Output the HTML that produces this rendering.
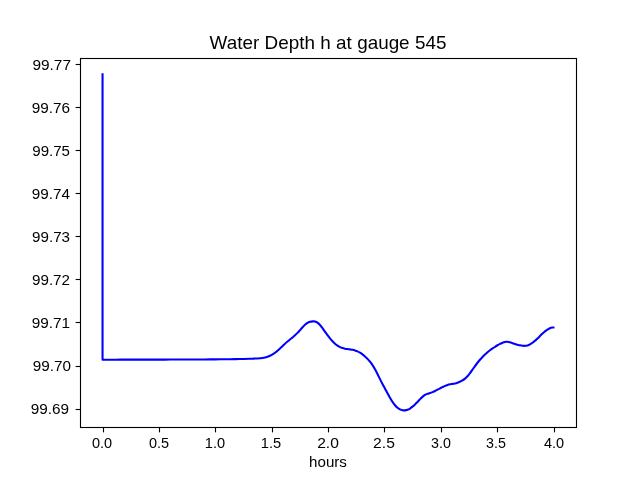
<!DOCTYPE html>
<html lang="en">
<head>
<meta charset="utf-8">
<title>Water Depth h at gauge 545</title>
<style>
html,body{margin:0;padding:0;background:#fff;}
body{width:640px;height:480px;overflow:hidden;position:relative;font-family:"Liberation Sans",sans-serif;color:#000;}
#fig{position:absolute;left:0;top:0;width:640px;height:480px;background:#fff;overflow:hidden;}
#fig svg{position:absolute;left:0;top:0;}
.t{position:absolute;white-space:nowrap;line-height:1;will-change:transform;-webkit-font-smoothing:antialiased;font-family:"Liberation Sans",sans-serif;color:#000;}
.yt{font-size:14.2px;text-align:right;width:60px;transform-origin:100% 50%;transform:scaleX(1.075);}
.xt{font-size:14.2px;text-align:center;width:60px;transform-origin:50% 50%;transform:scaleX(1.02);}
.xl{font-size:14.2px;text-align:center;width:120px;transform-origin:50% 50%;transform:scaleX(1.066);}
.ti{font-size:18.5px;word-spacing:0.1px;text-align:center;width:400px;transform-origin:50% 50%;transform:scaleX(1.02);}
</style>
</head>
<body>
<div id="fig">
<svg width="640" height="480" viewBox="0 0 640 480">
<rect x="0" y="0" width="640" height="480" fill="#ffffff"/>
<path d="M102.55 74.40 L102.55 359.75 C103.79 359.74 107.09 359.72 110.00 359.71 C112.91 359.69 116.67 359.67 120.00 359.66 C123.33 359.65 126.67 359.64 130.00 359.63 C133.33 359.62 136.67 359.62 140.00 359.61 C143.33 359.61 146.67 359.60 150.00 359.60 C153.33 359.60 156.67 359.59 160.00 359.59 C163.33 359.59 166.67 359.58 170.00 359.58 C173.33 359.57 176.67 359.57 180.00 359.56 C183.33 359.55 186.67 359.54 190.00 359.53 C193.33 359.52 196.67 359.50 200.00 359.48 C203.33 359.46 206.67 359.44 210.00 359.41 C213.33 359.38 216.67 359.36 220.00 359.32 C223.33 359.28 226.67 359.24 230.00 359.19 C233.33 359.14 236.67 359.09 240.00 359.03 C243.33 358.96 247.92 358.86 250.00 358.80 C252.08 358.75 251.67 358.74 252.50 358.70 C253.33 358.66 254.17 358.62 255.00 358.58 C255.83 358.53 256.67 358.49 257.50 358.43 C258.33 358.37 259.17 358.31 260.00 358.23 C260.83 358.15 261.67 358.09 262.50 357.97 C263.33 357.86 264.17 357.73 265.00 357.54 C265.83 357.35 266.67 357.11 267.50 356.82 C268.33 356.53 269.17 356.19 270.00 355.79 C270.83 355.39 271.67 354.95 272.50 354.44 C273.33 353.93 274.17 353.37 275.00 352.75 C275.83 352.13 276.67 351.44 277.50 350.73 C278.33 350.02 279.17 349.26 280.00 348.49 C280.83 347.72 281.67 346.92 282.50 346.13 C283.33 345.34 284.17 344.54 285.00 343.78 C285.83 343.01 286.67 342.26 287.50 341.54 C288.33 340.82 289.17 340.12 290.00 339.43 C290.83 338.75 291.67 338.12 292.50 337.43 C293.33 336.74 294.17 336.07 295.00 335.31 C295.83 334.55 296.67 333.71 297.50 332.85 C298.33 331.99 299.17 331.05 300.00 330.13 C300.83 329.21 301.67 328.21 302.50 327.32 C303.33 326.43 304.17 325.50 305.00 324.76 C305.83 324.02 306.67 323.35 307.50 322.86 C308.33 322.38 309.17 322.10 310.00 321.85 C310.83 321.60 311.67 321.43 312.50 321.37 C313.33 321.31 314.17 321.29 315.00 321.52 C315.83 321.75 316.67 322.13 317.50 322.72 C318.33 323.31 319.17 324.15 320.00 325.07 C320.83 325.99 321.67 327.10 322.50 328.21 C323.33 329.31 324.17 330.54 325.00 331.70 C325.83 332.86 326.67 334.06 327.50 335.18 C328.33 336.30 329.17 337.41 330.00 338.42 C330.83 339.44 331.67 340.39 332.50 341.27 C333.33 342.15 334.17 342.95 335.00 343.68 C335.83 344.41 336.67 345.06 337.50 345.63 C338.33 346.20 339.17 346.68 340.00 347.09 C340.83 347.50 341.67 347.81 342.50 348.07 C343.33 348.33 344.17 348.51 345.00 348.68 C345.83 348.85 346.67 348.95 347.50 349.07 C348.33 349.19 349.17 349.27 350.00 349.39 C350.83 349.51 351.67 349.61 352.50 349.78 C353.33 349.95 354.17 350.13 355.00 350.40 C355.83 350.66 356.67 350.99 357.50 351.37 C358.33 351.75 359.17 352.20 360.00 352.70 C360.83 353.20 361.67 353.77 362.50 354.39 C363.33 355.01 364.17 355.70 365.00 356.44 C365.83 357.18 366.67 357.97 367.50 358.85 C368.33 359.73 369.17 360.67 370.00 361.72 C370.83 362.77 371.67 363.89 372.50 365.15 C373.33 366.41 374.17 367.78 375.00 369.27 C375.83 370.76 376.67 372.43 377.50 374.07 C378.33 375.71 379.17 377.48 380.00 379.14 C380.83 380.80 381.67 382.46 382.50 384.04 C383.33 385.62 384.17 387.10 385.00 388.64 C385.83 390.18 386.67 391.76 387.50 393.29 C388.33 394.82 389.17 396.39 390.00 397.83 C390.83 399.27 391.67 400.69 392.50 401.92 C393.33 403.16 394.17 404.27 395.00 405.24 C395.83 406.21 396.67 407.05 397.50 407.74 C398.33 408.43 399.17 408.98 400.00 409.40 C400.83 409.82 401.67 410.10 402.50 410.26 C403.33 410.42 404.17 410.45 405.00 410.37 C405.83 410.29 406.67 410.08 407.50 409.77 C408.33 409.46 409.17 409.03 410.00 408.52 C410.83 408.00 411.67 407.36 412.50 406.68 C413.33 406.00 414.17 405.22 415.00 404.42 C415.83 403.62 416.67 402.75 417.50 401.90 C418.33 401.05 419.17 400.14 420.00 399.30 C420.83 398.46 421.67 397.58 422.50 396.85 C423.33 396.12 424.17 395.45 425.00 394.95 C425.83 394.45 426.67 394.15 427.50 393.84 C428.33 393.53 429.17 393.36 430.00 393.07 C430.83 392.78 431.67 392.46 432.50 392.11 C433.33 391.76 434.17 391.36 435.00 390.96 C435.83 390.56 436.67 390.13 437.50 389.70 C438.33 389.27 439.17 388.83 440.00 388.40 C440.83 387.97 441.67 387.52 442.50 387.11 C443.33 386.70 444.17 386.28 445.00 385.91 C445.83 385.55 446.67 385.20 447.50 384.92 C448.33 384.64 449.17 384.41 450.00 384.24 C450.83 384.07 451.67 384.01 452.50 383.89 C453.33 383.77 454.17 383.70 455.00 383.50 C455.83 383.30 456.67 383.02 457.50 382.71 C458.33 382.40 459.17 382.02 460.00 381.62 C460.83 381.22 461.67 380.83 462.50 380.33 C463.33 379.83 464.17 379.29 465.00 378.60 C465.83 377.91 466.67 377.09 467.50 376.18 C468.33 375.27 469.17 374.22 470.00 373.13 C470.83 372.04 471.67 370.81 472.50 369.63 C473.33 368.45 474.17 367.21 475.00 366.06 C475.83 364.91 476.67 363.80 477.50 362.74 C478.33 361.68 479.17 360.67 480.00 359.71 C480.83 358.75 481.67 357.84 482.50 356.97 C483.33 356.10 484.17 355.27 485.00 354.48 C485.83 353.69 486.67 352.95 487.50 352.24 C488.33 351.53 489.17 350.86 490.00 350.22 C490.83 349.58 491.67 348.98 492.50 348.40 C493.33 347.82 494.17 347.28 495.00 346.76 C495.83 346.24 496.67 345.74 497.50 345.27 C498.33 344.80 499.17 344.34 500.00 343.92 C500.83 343.50 501.67 343.06 502.50 342.73 C503.33 342.40 504.17 342.08 505.00 341.92 C505.83 341.76 506.67 341.70 507.50 341.77 C508.33 341.84 509.17 342.12 510.00 342.35 C510.83 342.58 511.67 342.88 512.50 343.14 C513.33 343.40 514.17 343.68 515.00 343.93 C515.83 344.19 516.67 344.44 517.50 344.67 C518.33 344.90 519.17 345.13 520.00 345.31 C520.83 345.49 521.67 345.66 522.50 345.74 C523.33 345.82 524.17 345.88 525.00 345.82 C525.83 345.76 526.67 345.64 527.50 345.40 C528.33 345.16 529.17 344.80 530.00 344.36 C530.83 343.92 531.67 343.38 532.50 342.78 C533.33 342.18 534.17 341.48 535.00 340.76 C535.83 340.04 536.67 339.24 537.50 338.45 C538.33 337.66 539.17 336.81 540.00 336.00 C540.83 335.19 541.67 334.36 542.50 333.59 C543.33 332.82 544.17 332.04 545.00 331.36 C545.83 330.68 546.67 330.04 547.50 329.51 C548.33 328.98 549.17 328.50 550.00 328.17 C550.83 327.84 551.92 327.65 552.50 327.54 C553.08 327.43 553.29 327.51 553.45 327.51" fill="none" stroke="#0000ff" stroke-width="2.083" stroke-linejoin="round" stroke-linecap="square"/>
<g stroke="#000000" stroke-width="1.111" fill="none" stroke-linecap="butt">
<line x1="75.64" y1="64.5" x2="80.5" y2="64.5"/>
<line x1="75.64" y1="107.5" x2="80.5" y2="107.5"/>
<line x1="75.64" y1="150.5" x2="80.5" y2="150.5"/>
<line x1="75.64" y1="193.5" x2="80.5" y2="193.5"/>
<line x1="75.64" y1="236.5" x2="80.5" y2="236.5"/>
<line x1="75.64" y1="279.5" x2="80.5" y2="279.5"/>
<line x1="75.64" y1="322.5" x2="80.5" y2="322.5"/>
<line x1="75.64" y1="366.5" x2="80.5" y2="366.5"/>
<line x1="75.64" y1="409.5" x2="80.5" y2="409.5"/>
<line x1="103.5" y1="427.5" x2="103.5" y2="432.36"/>
<line x1="159.5" y1="427.5" x2="159.5" y2="432.36"/>
<line x1="215.5" y1="427.5" x2="215.5" y2="432.36"/>
<line x1="272.5" y1="427.5" x2="272.5" y2="432.36"/>
<line x1="328.5" y1="427.5" x2="328.5" y2="432.36"/>
<line x1="384.5" y1="427.5" x2="384.5" y2="432.36"/>
<line x1="441.5" y1="427.5" x2="441.5" y2="432.36"/>
<line x1="497.5" y1="427.5" x2="497.5" y2="432.36"/>
<line x1="554.5" y1="427.5" x2="554.5" y2="432.36"/>
</g>
<rect x="80.5" y="58.5" width="496" height="369" fill="none" stroke="#000000" stroke-width="1.111"/>
</svg>
<div class="t ti" style="left:127.80px;top:33.97px;">Water Depth h at gauge 545</div>
<div class="t yt" style="left:11.02px;top:57.89px;transform:scaleX(1.087);">99.77</div>
<div class="t yt" style="left:10.02px;top:100.90px;transform:scaleX(1.080);">99.76</div>
<div class="t yt" style="left:10.17px;top:143.87px;transform:scaleX(1.063);">99.75</div>
<div class="t yt" style="left:10.06px;top:187.06px;transform:scaleX(1.074);">99.74</div>
<div class="t yt" style="left:10.20px;top:230.11px;transform:scaleX(1.067);">99.73</div>
<div class="t yt" style="left:10.17px;top:272.91px;transform:scaleX(1.070);">99.72</div>
<div class="t yt" style="left:10.03px;top:316.10px;transform:scaleX(1.080);">99.71</div>
<div class="t yt" style="left:10.56px;top:358.89px;transform:scaleX(1.077);">99.70</div>
<div class="t yt" style="left:9.18px;top:402.12px;transform:scaleX(1.080);">99.69</div>
<div class="t xt" style="left:72.09px;top:435.88px;transform:scaleX(1.023);">0.0</div>
<div class="t xt" style="left:129.07px;top:435.88px;transform:scaleX(1.020);">0.5</div>
<div class="t xt" style="left:184.96px;top:435.88px;transform:scaleX(1.028);">1.0</div>
<div class="t xt" style="left:241.09px;top:435.88px;transform:scaleX(1.032);">1.5</div>
<div class="t xt" style="left:298.15px;top:435.88px;transform:scaleX(1.099);">2.0</div>
<div class="t xt" style="left:354.09px;top:435.88px;transform:scaleX(1.102);">2.5</div>
<div class="t xt" style="left:411.18px;top:435.88px;transform:scaleX(1.006);">3.0</div>
<div class="t xt" style="left:466.06px;top:435.88px;transform:scaleX(1.006);">3.5</div>
<div class="t xt" style="left:524.02px;top:435.88px;transform:scaleX(1.023);">4.0</div>
<div class="t xl" style="left:268.15px;top:455.12px;">hours</div>
</div>
</body>
</html>
